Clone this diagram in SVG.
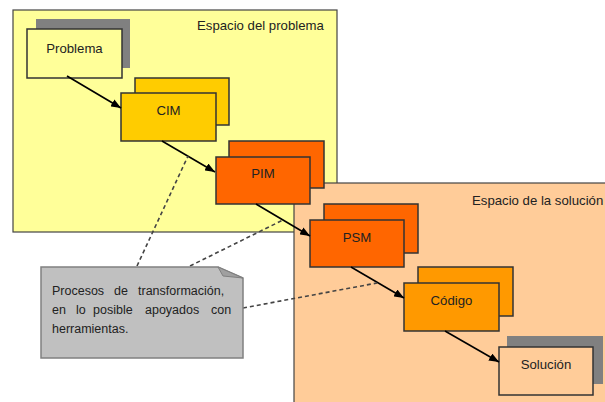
<svg xmlns="http://www.w3.org/2000/svg" width="605" height="402" viewBox="0 0 605 402">
<defs>
<marker id="ah" markerWidth="10" markerHeight="8" refX="10" refY="4" orient="auto" markerUnits="userSpaceOnUse">
<path d="M0,0 L10,4 L0,8 Z" fill="#000"/>
</marker>
<style>
text{font-family:"Liberation Sans",Arial,sans-serif;font-size:13.2px;fill:#222}
.c{text-anchor:middle}
.n{font-size:12.5px}
.box{stroke:#333;stroke-width:1.5}
.shadow{fill:#808080}
.arrow{stroke:#000;stroke-width:1.6;fill:none;marker-end:url(#ah)}
.dash{stroke:#444;stroke-width:1.6;fill:none;stroke-dasharray:4 3}
</style>
</defs>
<rect width="605" height="402" fill="#fff"/>
<g id="problem-space">
<rect x="13" y="10" width="324" height="222" fill="#ffff99" stroke="#444" stroke-width="1.2"/>
<text x="197" y="30">Espacio del problema</text>
</g>
<g id="solution-space">
<rect x="294" y="183" width="320" height="230" fill="#ffcc99" stroke="#444" stroke-width="1.2"/>
<text x="472" y="205">Espacio de la solución</text>
</g>
<g id="problema">
<rect class="shadow" x="36" y="19" width="94" height="49"/>
<rect class="box" x="27" y="29" width="95" height="49" fill="#ffff99"/>
<text class="c" x="74.5" y="53">Problema</text>
</g>
<g id="cim">
<rect class="box" x="135" y="78" width="94" height="47" fill="#ffcc00"/>
<rect class="box" x="121" y="93" width="95" height="48" fill="#ffcc00"/>
<text class="c" x="168.5" y="115">CIM</text>
</g>
<g id="pim">
<rect class="box" x="229" y="141" width="95" height="47" fill="#ff6600"/>
<rect class="box" x="216" y="157" width="94" height="47" fill="#ff6600"/>
<text class="c" x="263" y="178">PIM</text>
</g>
<g id="psm">
<rect class="box" x="324" y="204" width="94" height="49" fill="#ff6600"/>
<rect class="box" x="310" y="220" width="94" height="47" fill="#ff6600"/>
<text class="c" x="357" y="242">PSM</text>
</g>
<g id="codigo">
<rect class="box" x="418" y="267" width="95" height="49" fill="#ff9900"/>
<rect class="box" x="404" y="283" width="95" height="48" fill="#ff9900"/>
<text class="c" x="451.5" y="305">Código</text>
</g>
<g id="solucion">
<rect class="shadow" x="507" y="336" width="96" height="48"/>
<rect class="box" x="499" y="347" width="94" height="48" fill="#ffcc99"/>
<text class="c" x="546" y="369">Solución</text>
</g>
<g id="connectors">
<line class="arrow" x1="67" y1="76" x2="121" y2="108"/>
<line class="arrow" x1="162" y1="141" x2="215" y2="172"/>
<line class="arrow" x1="256" y1="204" x2="310" y2="236"/>
<line class="arrow" x1="351" y1="267" x2="404" y2="298"/>
<line class="arrow" x1="445" y1="331" x2="499" y2="362"/>
<line class="dash" x1="137" y1="266" x2="188" y2="156"/>
<line class="dash" x1="190" y1="266" x2="283" y2="220"/>
<line class="dash" x1="243" y1="308" x2="377" y2="283"/>
</g>
<g id="note">
<polygon points="41,267 218,267 243,278 243,358 41,358" fill="#c0c0c0" stroke="#808080" stroke-width="1.5"/>
<polygon points="218,267 243,278 223,276" fill="#a0a0a0" stroke="#808080" stroke-width="1"/>
<text class="n" y="295"><tspan x="52">Procesos</tspan><tspan x="114">de</tspan><tspan x="138">transformación,</tspan></text>
<text class="n" y="314"><tspan x="52">en</tspan><tspan x="76">lo</tspan><tspan x="93">posible</tspan><tspan x="145">apoyados</tspan><tspan x="211">con</tspan></text>
<text class="n" x="52" y="333">herramientas.</text>
</g>
</svg>
